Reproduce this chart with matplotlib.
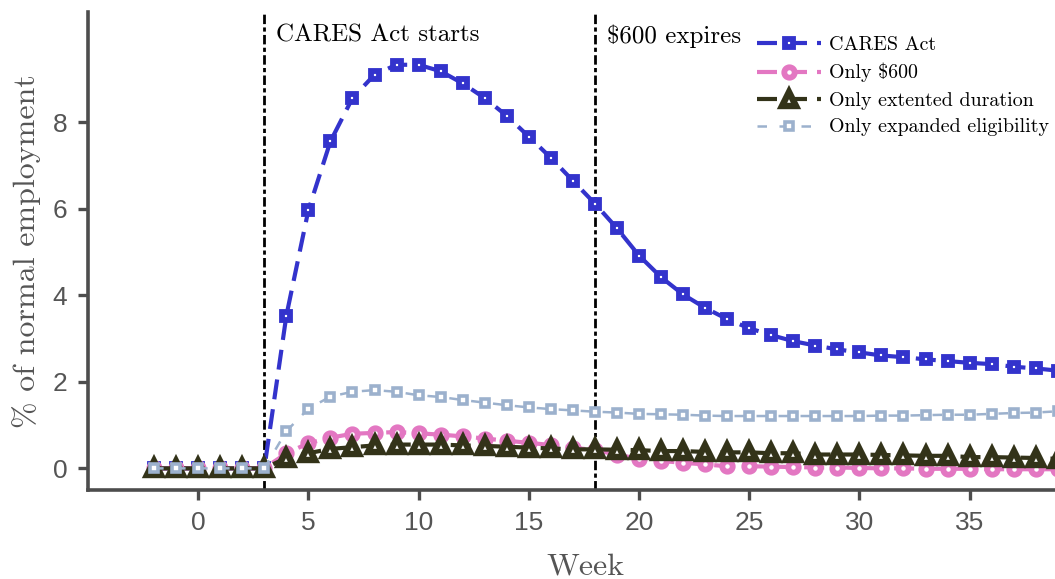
import matplotlib
matplotlib.use("Agg")
import matplotlib.pyplot as plt
import numpy as np

weeks = list(range(-2, 40))
cares_act = [0, 0, 0, 0, 0, 0,
             3.53, 5.97, 7.56, 8.56, 9.10, 9.33, 9.33, 9.18, 8.90, 8.56,
             8.15, 7.67, 7.18, 6.65, 6.12, 5.55, 4.92, 4.42, 4.02, 3.71,
             3.45, 3.24, 3.08, 2.94, 2.84, 2.75, 2.68, 2.61, 2.57, 2.52,
             2.48, 2.44, 2.41, 2.35, 2.31, 2.26]
only_600 = [0, 0, 0, 0, 0, 0,
            0.35, 0.58, 0.71, 0.80, 0.82, 0.84, 0.81, 0.78, 0.74, 0.69,
            0.64, 0.59, 0.54, 0.48, 0.42, 0.32, 0.22, 0.17, 0.13, 0.09,
            0.05, 0.05, 0.04, 0.03, 0.02, 0.02, 0.01, 0.0, 0.0, -0.01,
            -0.01, -0.01, -0.02, -0.02, -0.02, -0.02]
only_duration = [0, 0, 0, 0, 0, 0,
                 0.24, 0.35, 0.45, 0.49, 0.53, 0.55, 0.55, 0.55, 0.53, 0.52,
                 0.50, 0.48, 0.46, 0.44, 0.44, 0.43, 0.42, 0.40, 0.40, 0.38,
                 0.37, 0.37, 0.35, 0.35, 0.32, 0.32, 0.32, 0.31, 0.30, 0.29,
                 0.29, 0.26, 0.26, 0.25, 0.24, 0.22]
only_eligibility = [0, 0, 0, 0, 0, 0,
                    0.86, 1.38, 1.66, 1.77, 1.81, 1.77, 1.69, 1.65, 1.58, 1.52,
                    1.46, 1.41, 1.37, 1.34, 1.31, 1.29, 1.26, 1.25, 1.24, 1.22,
                    1.21, 1.21, 1.21, 1.21, 1.21, 1.21, 1.21, 1.22, 1.22, 1.23,
                    1.24, 1.24, 1.26, 1.28, 1.29, 1.32]
labels = ["CARES Act", "Only $600", "Only extented duration", "Only expanded eligibility"]
event_weeks = [3, 18]
event_labels = ["CARES Act starts", "$600 expires"]
xticks = [0, 5, 10, 15, 20, 25, 30, 35]
yticks = [0, 2, 4, 6, 8]

serif = ["cmr10", "DejaVu Serif"]
sans = ["Liberation Sans", "DejaVu Sans"]
plt.rcParams["axes.unicode_minus"] = False

fig = plt.figure(figsize=(10.55, 5.79), dpi=100)
ax = fig.add_axes([88 / 1055, 1 - 490 / 579, (1082 - 88) / 1055, (490 - 12) / 579])

ax.plot(weeks, cares_act, color="#3333cc", lw=3, linestyle=(0, (4.8, 2.4)),
        marker="s", ms=6, mew=4.2, mfc="white", mec="#3333cc", label=labels[0], zorder=3)
ax.plot(weeks, only_600, color="#e377c2", lw=3, linestyle=(0, (4.8, 2.4)),
        marker="o", ms=7.5, mew=4.2, mfc="white", mec="#e377c2", label=labels[1], zorder=4)
ax.plot(weeks, only_duration, color="#333319", lw=3, linestyle=(0, (4.8, 2.4)),
        marker="^", ms=9.5, mew=4.6, mfc="white", mec="#333319", label=labels[2], zorder=5)
ax.plot(weeks, only_eligibility, color="#9cb1cd", lw=1.8, linestyle=(0, (3.8, 5.0)),
        marker="s", ms=6, mew=2.6, mfc="white", mec="#9cb1cd", label=labels[3], zorder=6)

for xv, txt in zip(event_weeks, event_labels):
    ax.axvline(xv, color="black", lw=2, linestyle=(0, (3.4, 1.2, 1.5, 1.2)), zorder=2)
    ax.text(xv + 0.53, 10.0, txt, family=serif, fontsize=18, va="center", ha="left")

ax.set_xlim(-5, 40.1)
ax.set_ylim(-0.5, 10.55)
ax.set_xticks(xticks)
ax.set_yticks(yticks)
for lab in ax.get_xticklabels() + ax.get_yticklabels():
    lab.set_family(sans)
    lab.set_fontsize(19)
    lab.set_color("#555555")

for s in ["top", "right"]:
    ax.spines[s].set_visible(False)
for s in ["left", "bottom"]:
    ax.spines[s].set_linewidth(2.6)
    ax.spines[s].set_color("#4d4d4d")
ax.tick_params(axis="both", direction="out", length=7, width=2.4, color="#4d4d4d", pad=8)

ax.set_xlabel("Week", family=serif, fontsize=23, color="#555555", labelpad=13)
ax.set_ylabel("% of normal employment", family=serif, fontsize=23, color="#555555", labelpad=8)

leg = ax.legend(loc="upper left", bbox_to_anchor=(757 / 1055, 1 - 36 / 579),
                bbox_transform=fig.transFigure, frameon=False, numpoints=1,
                prop={"family": serif, "size": 14.4}, handlelength=3.2,
                labelspacing=0.45, handletextpad=0.4, borderpad=0, borderaxespad=0)

fig.savefig("out.png", dpi=100)
